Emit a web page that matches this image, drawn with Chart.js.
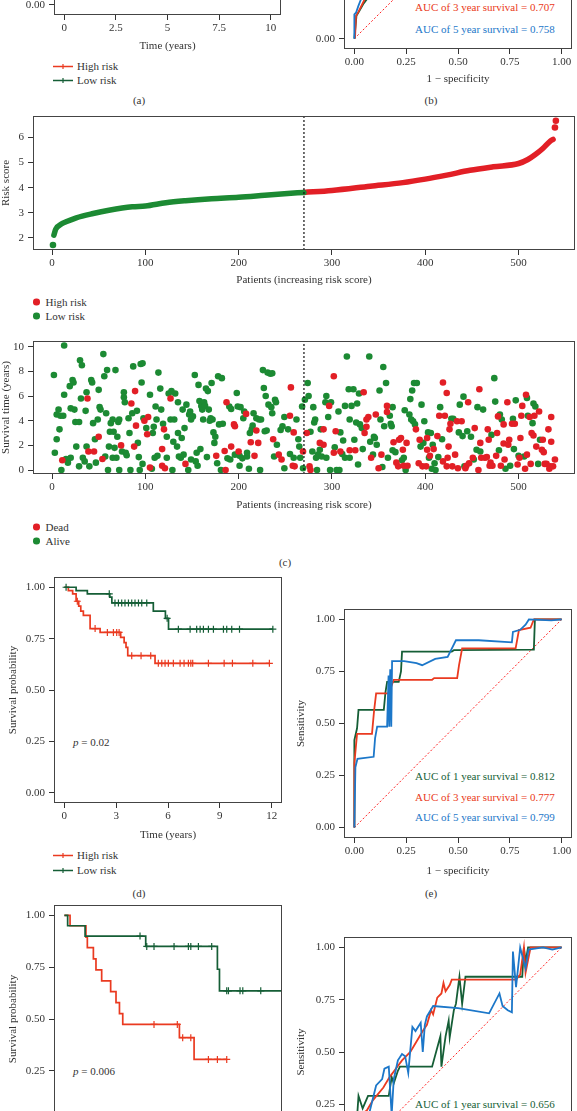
<!DOCTYPE html>
<html>
<head>
<meta charset="utf-8">
<script src="https://cdn.jsdelivr.net/npm/chart.js@4.4.1/dist/chart.umd.min.js"></script>
<style>
  html, body { margin: 0; padding: 0; background: #fff; overflow: hidden; }
  body { position: relative; width: 577px; height: 1111px; font-family: "Liberation Serif", "Times New Roman", serif; color: #333; }
  canvas { position: absolute; }
  .t { position: absolute; white-space: nowrap; font-size: 11px; line-height: 1; transform: translateY(-50%); }
  .c { transform: translate(-50%, -50%); }
  .key { position: absolute; display: flex; align-items: center; font-size: 11px; line-height: 1; transform: translateY(-50%); white-space: nowrap; }
  .key svg { margin-right: 4px; }
  .dot { display: inline-block; width: 6.5px; height: 6.5px; border-radius: 50%; margin-right: 6px; }
</style>
</head>
<body>

<!-- panel (a) legend / caption -->
<div class="key" style="left:53px;top:66px"><svg width="20" height="8"><line x1="0" y1="4" x2="20" y2="4" stroke="#EA3A20" stroke-width="1.5"/><path d="M10 1.5V6.5M7.5 4H12.5" stroke="#EA3A20" stroke-width="1.2"/></svg>High risk</div>
<div class="key" style="left:53px;top:80px"><svg width="20" height="8"><line x1="0" y1="4" x2="20" y2="4" stroke="#155E36" stroke-width="1.5"/><path d="M10 1.5V6.5M7.5 4H12.5" stroke="#155E36" stroke-width="1.2"/></svg>Low risk</div>
<div class="t c" style="left:139px;top:100px">(a)</div>

<!-- panel (b) -->
<div class="t" style="left:415px;top:7px;color:#EA3A20">AUC of 3 year survival = 0.707</div>
<div class="t" style="left:415px;top:29px;color:#1C77C9">AUC of 5 year survival = 0.758</div>
<div class="t c" style="left:431px;top:100px">(b)</div>

<!-- panel (c) legends -->
<div class="key" style="left:33px;top:302px"><span class="dot" style="background:#E21F26"></span>High risk</div>
<div class="key" style="left:33px;top:316px"><span class="dot" style="background:#1C8A33"></span>Low risk</div>
<div class="key" style="left:33px;top:527px"><span class="dot" style="background:#E21F26"></span>Dead</div>
<div class="key" style="left:33px;top:541px"><span class="dot" style="background:#1C8A33"></span>Alive</div>
<div class="t c" style="left:285px;top:562px">(c)</div>

<!-- panel (d) -->
<div class="t" style="left:73px;top:742px"><i>p</i> = 0.02</div>
<div class="key" style="left:53px;top:855px"><svg width="20" height="8"><line x1="0" y1="4" x2="20" y2="4" stroke="#EA3A20" stroke-width="1.5"/><path d="M10 1.5V6.5M7.5 4H12.5" stroke="#EA3A20" stroke-width="1.2"/></svg>High risk</div>
<div class="key" style="left:53px;top:870px"><svg width="20" height="8"><line x1="0" y1="4" x2="20" y2="4" stroke="#155E36" stroke-width="1.5"/><path d="M10 1.5V6.5M7.5 4H12.5" stroke="#155E36" stroke-width="1.2"/></svg>Low risk</div>
<div class="t c" style="left:139px;top:893px">(d)</div>

<!-- panel (e) -->
<div class="t" style="left:415px;top:776px;color:#155E36">AUC of 1 year survival = 0.812</div>
<div class="t" style="left:415px;top:797px;color:#EA3A20">AUC of 3 year survival = 0.777</div>
<div class="t" style="left:415px;top:817px;color:#1C77C9">AUC of 5 year survival = 0.799</div>
<div class="t c" style="left:431px;top:893px">(e)</div>

<!-- bottom panels -->
<div class="t" style="left:73px;top:1071px"><i>p</i> = 0.006</div>
<div class="t" style="left:415px;top:1104px;color:#155E36">AUC of 1 year survival = 0.656</div>

<script>
// Multi-panel survival figure: KM curves, time-dependent ROC, risk score and survival status plots

const FONT = '"Liberation Serif", "Times New Roman", serif';
const INK = '#333333';
const DOT_RED = '#E21F26';
const DOT_GREEN = '#1C8A33';
const LINE_RED = '#EA3A20';
const LINE_GREEN = '#155E36';
const LINE_BLUE = '#1C77C9';

// ---- tick labels ----
const probTicks = [0, 0.25, 0.5, 0.75, 1];
const timeTicksA = [0, 2.5, 5, 7.5, 10];
const timeTicks = [0, 3, 6, 9, 12];
const patientTicks = [0, 100, 200, 300, 400, 500];
const riskTicks = [2, 3, 4, 5, 6];
const survYearTicks = [0, 2, 4, 6, 8, 10];

// ---- risk score curve (patients sorted by risk score) ----
const cutoffPatient = 270;
const riskLowX = [2, 4, 10, 15, 26, 44, 61, 86, 100, 122, 143, 171, 200, 228, 249, 270];
const riskLowY = [2.11, 2.35, 2.55, 2.64, 2.8, 2.97, 3.1, 3.24, 3.27, 3.4, 3.48, 3.56, 3.62, 3.7, 3.76, 3.81];
const riskHighX = [270, 300, 341, 376, 400, 423, 448, 473, 500, 510, 518, 526, 534, 537];
const riskHighY = [3.81, 3.89, 4.06, 4.2, 4.34, 4.5, 4.69, 4.83, 4.96, 5.12, 5.32, 5.56, 5.85, 5.92];
const riskLowLoose = [[1, 1.72]];
const riskHighLoose = [[539, 6.39], [540, 6.66]];

// ---- survival status per patient: [patient, years] ----
const alivePoints = [
  [2,7.7],[3,1.4],[5,4.5],[7,4.9],[9,4.4],[5,2.5],[8,3.3],[10,0],[13,10.1],[13,6.1],[12,4.4],[15,0.9],[17,0.6],[19,6.8],
  [20,5.0],[20,1.0],[22,7.3],[23,7.1],[24,4.9],[25,3.9],[26,1.9],[29,3.9],[29,0.3],[30,8.9],[31,5.8],[32,8.5],[33,1.0],
  [35,0.7],[36,4.8],[37,6.3],[37,1.9],[40,0.3],[42,7.3],[43,7.1],[44,3.8],[46,2.5],[47,0.6],[49,4.1],[50,6.5],[51,5.1],
  [52,4.9],[55,9.4],[56,7.6],[57,1.1],[58,4.6],[59,8.1],[60,0],[61,1.9],[62,3.1],[63,3.8],[65,4.1],[65,1.0],[66,3.1],
  [67,1.8],[68,8.1],[70,2.7],[69,1.0],[71,3.9],[72,0],[72,4.1],[75,1.5],[77,5.9],[77,6.3],[78,5.5],[79,1.4],[80,1.2],
  [82,4.2],[83,3.0],[84,0],[86,4.6],[87,8.4],[91,4.8],[92,2.2],[93,1.05],[94,0],[95,8.6],[96,7.1],[97,8.65],[97,0.5],
  [98,4.2],[101,3.4],[105,6.1],[107,0.1],[108,3.0],[109,3.5],[110,1.0],[111,5.15],[112,4.1],[113,1.15],[114,7.9],
  [116,6.6],[117,4.9],[119,3.75],[123,1.0],[123,2.7],[125,6.2],[127,4.1],[128,6.4],[129,0],[130,2.3],[131,4.1],[132,6.2],
  [134,1.9],[135,5.5],[135,3.0],[136,1.1],[138,1.0],[139,2.6],[140,4.9],[141,1.25],[142,3.4],[144,5.3],[146,0],[147,4.5],
  [148,4.75],[149,4.1],[149,0.85],[151,4.35],[153,7.7],[154,0.7],[155,1.4],[156,0.35],[157,6.9],[158,5.6],[159,1.7],
  [160,5.2],[161,4.9],[162,4.1],[163,5.5],[164,5.2],[165,6.6],[166,1.05],[167,6.4],[168,4.9],[169,4.0],[170,4.2],
  [171,7.05],[172,4.1],[173,3.05],[174,2.2],[175,2.7],[177,0.55],[178,7.6],[179,3.7],[181,0],[182,7.45],[183,3.75],
  [188,0.95],[190,5.15],[191,0.85],[192,4.95],[196,1.25],[198,6.25],[199,5.15],[201,1.15],[201,0.35],[202,5.1],[204,0.95],
  [205,4.2],[206,4.75],[209,1.1],[209,1.4],[211,0.1],[212,3.0],[214,3.3],[215,3.6],[216,4.6],[219,4.2],[222,4.1],[223,0],
  [224,4.1],[226,8.1],[227,6.65],[228,3.15],[229,6.0],[230,3.2],[231,7.9],[232,5.3],[234,7.8],[235,5.1],[236,7.85],
  [236,4.6],[238,1.1],[239,5.7],[240,5.5],[241,2.05],[245,3.25],[247,3.55],[249,4.3],[249,0.15],
  [253,3.3],[255,1.3],[259,1.0],[262,4.1],[264,2.5],[265,1.9],[266,1.0],[268,5.15],[269,0.15],[271,5.7],[274,7.05],
  [275,6.0],[277,3.1],[279,1.5],[280,5.1],[281,3.85],[282,4.1],[283,1.0],[284,0],[285,1.25],[287,1.65],[288,3.3],
  [289,1.1],[293,5.5],[294,6.0],[294,1.0],[296,4.3],[298,0],[299,5.5],[303,1.85],[305,0],[307,4.75],[308,0],[309,3.05],
  [311,1.3],[312,2.4],[314,5.2],[314,1.0],[316,9.2],[318,6.55],[319,1.0],[319,4.1],[321,5.2],[323,6.55],[324,2.45],
  [326,3.85],[327,5.4],[328,0.45],[329,6.2],[330,3.7],[332,3.4],[333,1.7],[340,9.2],[341,2.3],[344,1.25],[345,2.7],
  [346,2.6],[348,2.05],[351,6.45],[352,4.1],[354,0.25],[355,8.35],[356,3.55],[358,7.05],[360,1.0],[362,4.4],[363,3.75],
  [364,3.55],[365,5.1],[365,1.6],[368,1.45],[375,0.8],[377,1.0],[378,4.85],[379,0],[383,4.5],[384,5.75],[385,4.1],
  [386,6.45],[387,3.95],[388,7.05],[389,3.7],[391,7.05],[395,1.9],[396,5.3],[398,2.2],[399,3.95],[403,3.05],[404,1.0],
  [406,3.0],[407,0.1],[408,2.05],[410,0.55],[411,0],[414,1.05],[416,5.1],[418,2.5],[428,4.15],[430,4.15],[436,3.05],
  [437,5.3],[440,2.75],[441,5.95],[442,0.3],[445,3.15],[449,2.7],[452,0.85],[455,1.65],[456,5.1],[459,1.5],[462,4.9],
  [471,2.85],[474,7.45],[475,5.55],[479,1.6],[480,4.5],[482,4.1],[486,0.1],[491,0.35],[494,4.15],[495,1.7],[497,5.65],
  [500,1.15],[506,1.1],[509,5.85],[510,4.4],[515,3.8],[516,5.4],[518,5.15],[521,0.5],[523,2.45],
];
const deadPoints = [
  [11,0.8],[38,5.8],[39,1.5],[45,1.5],[50,2.7],[54,0.9],[74,2.0],[85,5.4],[88,1.9],[89,6.4],[90,3.6],[99,4.0],[102,2.9],
  [103,4.3],[105,0.2],[118,1.7],[118,0.35],[120,3.3],[121,0.15],[127,5.8],[143,0.5],[176,1.15],[185,1.55],[186,0],
  [187,5.5],[192,1.9],[195,3.7],[196,3.55],[200,1.5],[208,4.55],[213,2.25],[217,1.15],[219,3.2],[221,2.2],[237,2.5],
  [243,1.25],[246,0.85],[255,4.4],[256,6.7],[258,0.35],[259,3.05],[260,0.3],[269,1.5],[273,3.0],[276,0.3],[277,0],
  [287,2.2],[291,3.3],[291,2.05],[297,5.2],[302,7.6],[302,1.4],[304,3.15],[309,1.5],[319,1.6],[325,1.6],[334,6.3],
  [335,3.0],[337,4.1],[337,3.5],[339,4.3],[342,1.0],[347,4.5],[350,0.15],[353,1.25],[359,4.7],[359,5.2],[366,2.25],
  [369,0.6],[371,0.3],[372,2.45],[374,2.6],[376,1.65],[377,0.35],[380,2.2],[381,0.35],[390,3.3],[393,0.55],[394,2.45],
  [397,0.3],[401,0.3],[402,2.6],[402,1.65],[405,1.15],[409,1.7],[413,2.75],[415,4.4],[419,0.7],[419,7.1],[421,4.4],
  [423,6.25],[423,0.3],[424,1.0],[425,1.9],[426,3.3],[427,3.75],[429,0.3],[432,1.25],[434,3.95],[435,0.15],[439,3.95],
  [443,0.15],[444,0.35],[446,5.5],[447,0.55],[451,1.0],[453,3.4],[457,0],[458,6.55],[459,2.2],[460,1.0],[464,1.0],
  [466,1.05],[467,3.3],[468,2.45],[469,0.35],[470,0.6],[472,0.35],[476,1.15],[477,3.0],[478,4.35],[481,0.35],[484,3.7],
  [484,2.15],[485,0.85],[488,5.5],[489,2.05],[490,2.45],[493,3.75],[496,3.75],[499,0.45],[501,1.0],[502,2.6],[503,4.4],
  [504,5.2],[507,0.1],[508,6.1],[509,1.25],[512,4.3],[513,0.5],[514,3.0],[516,2.8],[517,4.4],[519,1.9],[522,4.75],
  [525,1.65],[526,2.45],[527,1.45],[528,0.5],[530,0.5],[532,3.3],[533,0.1],[534,0.3],[535,4.3],[535,2.3],[537,0.3],[539,0.85],
];

// ---- Kaplan-Meier, panel (d) ----
const kmDHighT = [0, 0.23, 0.48, 0.68, 0.83, 0.95, 1.1, 1.49, 2.07, 3.26, 3.46, 3.57, 3.67, 5.25, 11.87];
const kmDHighS = [1, 0.984, 0.968, 0.932, 0.908, 0.884, 0.863, 0.799, 0.78, 0.756, 0.731, 0.707, 0.667, 0.63, 0.63];
const kmDHighCensor = [0.75, 1.78, 2.49, 2.84, 3.03, 3.17, 3.9, 4.44, 5.0, 5.44, 5.64, 5.83, 6.02, 6.31, 6.7, 6.93, 7.18, 7.32, 7.43, 8.34, 9.25, 9.73, 10.91, 11.87];
const kmDLowT = [0, 0.68, 1.33, 2.63, 2.75, 5.15, 5.85, 6.03, 12.07];
const kmDLowS = [1, 0.984, 0.968, 0.952, 0.924, 0.884, 0.849, 0.796, 0.796];
const kmDLowCensor = [0.1, 2.6, 2.93, 3.13, 3.32, 3.51, 3.71, 3.9, 4.09, 4.29, 4.48, 4.77, 5.95, 6.6, 7.28, 7.66, 7.86, 8.05, 8.34, 8.63, 9.21, 9.4, 9.69, 10.14, 12.07];

// ---- Kaplan-Meier, bottom panel ----
const kmFHighT = [0, 0.33, 1.25, 1.33, 1.68, 1.83, 2.16, 2.68, 2.99, 3.19, 3.38, 6.66, 7.51, 9.4];
const kmFHighS = [1, 0.95, 0.895, 0.844, 0.79, 0.737, 0.684, 0.632, 0.579, 0.526, 0.474, 0.41, 0.305, 0.305];
const kmFHighCensor = [5.19, 6.54, 6.85, 7.32, 8.34, 8.86, 9.4];
const kmFLowT = [0, 0.19, 1.2, 4.71, 8.86, 8.98, 12.59];
const kmFLowS = [1, 0.95, 0.9, 0.85, 0.74, 0.636, 0.636];
const kmFLowCensor = [4.38, 4.77, 5.19, 6.35, 7.18, 7.32, 7.76, 8.53, 9.4, 9.5, 10.17, 10.33, 11.37];

// ---- ROC curves: [1 - specificity, sensitivity] ----
const rocDiagonal = [[0, 0], [1, 1]];
const rocB1 = [[0, 0], [0.01, 0.11], [0.025, 0.135], [0.045, 0.17], [0.06, 0.19], [0.08, 0.25], [0.1, 0.3]];
const rocB3 = [[0.003, 0], [0.008, 0.11], [0.02, 0.13], [0.035, 0.16], [0.05, 0.19], [0.07, 0.25]];
const rocB5 = [[0, 0], [0, 0.117], [0.008, 0.125], [0.019, 0.157], [0.032, 0.19], [0.05, 0.25]];
const rocE1 = [[0, 0], [0, 0.42], [0.013, 0.477], [0.02, 0.565], [0.142, 0.565], [0.15, 0.65], [0.158, 0.7], [0.214, 0.7], [0.225, 0.75], [0.23, 0.845], [0.47, 0.845], [0.48, 0.852], [0.866, 0.855], [0.871, 1.0], [1, 1]];
const rocE3 = [[0, 0], [0, 0.31], [0.013, 0.45], [0.085, 0.45], [0.095, 0.56], [0.105, 0.645], [0.166, 0.645], [0.19, 0.71], [0.375, 0.71], [0.385, 0.718], [0.496, 0.718], [0.505, 0.78], [0.52, 0.861], [0.778, 0.861], [0.794, 0.949], [0.85, 0.96], [0.866, 1.0], [1, 1]];
const rocE5 = [[0, 0], [0.005, 0.29], [0.015, 0.33], [0.093, 0.34], [0.1, 0.43], [0.11, 0.485], [0.158, 0.485], [0.165, 0.73], [0.168, 0.485], [0.173, 0.76], [0.178, 0.485], [0.182, 0.8], [0.24, 0.8], [0.3, 0.79], [0.327, 0.78], [0.39, 0.81], [0.45, 0.82], [0.47, 0.86], [0.49, 0.9], [0.6, 0.9], [0.76, 0.89], [0.765, 0.94], [0.8, 0.95], [0.826, 0.975], [0.842, 1.0], [0.95, 0.995], [1, 1]];
const rocG1 = [[0, 0], [0.02, 0.29], [0.04, 0.23], [0.066, 0.29], [0.166, 0.29], [0.18, 0.38], [0.19, 0.35], [0.21, 0.41], [0.22, 0.43], [0.375, 0.43], [0.415, 0.575], [0.42, 0.43], [0.44, 0.575], [0.455, 0.65], [0.46, 0.57], [0.48, 0.7], [0.49, 0.73], [0.507, 0.86], [0.52, 0.73], [0.536, 0.86], [0.81, 0.86], [0.818, 1.0], [0.826, 0.93], [0.838, 1.0], [1, 1]];
const rocG3 = [[0, 0], [0.03, 0.2], [0.06, 0.22], [0.09, 0.27], [0.14, 0.33], [0.17, 0.38], [0.2, 0.42], [0.23, 0.46], [0.27, 0.5], [0.3, 0.55], [0.33, 0.6], [0.35, 0.63], [0.37, 0.7], [0.38, 0.68], [0.4, 0.76], [0.42, 0.78], [0.43, 0.83], [0.44, 0.79], [0.46, 0.82], [0.47, 0.846], [0.78, 0.846], [0.8, 0.87], [0.818, 1.0], [0.826, 0.88], [0.85, 1.0], [1, 1]];
const rocG5 = [[0, 0], [0.02, 0.15], [0.037, 0.177], [0.07, 0.2], [0.105, 0.34], [0.134, 0.37], [0.145, 0.42], [0.166, 0.43], [0.18, 0.2], [0.19, 0.37], [0.21, 0.46], [0.23, 0.49], [0.245, 0.48], [0.26, 0.4], [0.28, 0.62], [0.295, 0.6], [0.32, 0.64], [0.33, 0.5], [0.34, 0.63], [0.35, 0.67], [0.38, 0.72], [0.5, 0.71], [0.65, 0.685], [0.7, 0.78], [0.715, 0.72], [0.74, 0.7], [0.76, 0.69], [0.765, 0.98], [0.78, 0.81], [0.8, 1.0], [0.826, 0.9], [0.84, 0.99], [0.91, 1.0], [0.955, 0.99], [1, 1]];

// ---------------------------------------------------------------

const toXY = (pairs) => pairs.map(([x, y]) => ({ x, y }));
const zipXY = (xs, ys) => xs.map((x, i) => ({ x, y: ys[i] }));
const survivalAt = (times, surv, t) => {
  let s = surv[0];
  times.forEach((time, i) => { if (time <= t) s = surv[i]; });
  return s;
};
const fmt2 = (v) => Number(v).toFixed(2);
const fmtPlain = (v) => String(v);

// full frame round the panel, like the ggplot panel border
const panelBorder = {
  id: 'panelBorder',
  afterDraw(chart) {
    const { ctx, chartArea: a } = chart;
    ctx.save();
    ctx.strokeStyle = '#444';
    ctx.lineWidth = 1;
    ctx.strokeRect(Math.round(a.left) + 0.5, Math.round(a.top) + 0.5, Math.round(a.right - a.left) - 1, Math.round(a.bottom - a.top) - 1);
    ctx.restore();
  },
};

function scaleOpts(axis, min, max, ticks, fmt, title, size, titlePad) {
  const horizontal = axis === 'x';
  return {
    type: 'linear',
    position: horizontal ? 'bottom' : 'left',
    min,
    max,
    afterBuildTicks: (scale) => { scale.ticks = ticks.map((value) => ({ value })); },
    afterFit: (scale) => { if (horizontal) scale.height = size; else scale.width = size; },
    grid: { drawOnChartArea: false, drawTicks: true, tickLength: 5, tickColor: INK, tickWidth: 1 },
    border: { display: false },
    ticks: { padding: horizontal ? 2 : 4, color: INK, autoSkip: false, maxRotation: 0, font: { family: FONT, size: 11 }, callback: fmt },
    title: { display: true, text: title, color: INK, font: { family: FONT, size: 11 }, padding: { top: titlePad || 0, bottom: 0 } },
  };
}

// box = plot panel in page pixels; yw / xh = room kept for the axes
function placeChart(box, yw, xh, scales, datasets) {
  const padTop = 12;
  const padRight = 12;
  const canvas = document.createElement('canvas');
  canvas.width = yw + (box.right - box.left) + padRight;
  canvas.height = padTop + (box.bottom - box.top) + xh;
  canvas.style.left = (box.left - yw) + 'px';
  canvas.style.top = (box.top - padTop) + 'px';
  document.body.appendChild(canvas);
  return new Chart(canvas, {
    type: 'scatter',
    data: { datasets },
    options: {
      responsive: false,
      animation: false,
      events: [],
      layout: { padding: { top: padTop, right: padRight, left: 0, bottom: 0 } },
      plugins: { legend: { display: false }, tooltip: { enabled: false } },
      scales,
    },
    plugins: [panelBorder],
  });
}

function kmSets(times, surv, censor, color) {
  return [
    {
      data: censor.map((t) => ({ x: t, y: survivalAt(times, surv, t) })),
      pointStyle: 'cross', pointRadius: 3.5, borderColor: color, pointBorderColor: color, pointBorderWidth: 1.2, borderWidth: 1.2,
    },
    { data: zipXY(times, surv), showLine: true, stepped: true, borderColor: color, borderWidth: 1.7, pointRadius: 0 },
  ];
}

function rocSet(pairs, color) {
  return { data: toXY(pairs), showLine: true, borderColor: color, borderWidth: 1.8, pointRadius: 0 };
}

const diagonalSet = () => ({ data: toXY(rocDiagonal), showLine: true, borderColor: '#F22', borderWidth: 1, borderDash: [2, 2], pointRadius: 0 });

function dotSet(points, color) {
  return { data: toXY(points), pointRadius: 3.3, backgroundColor: color, pointBackgroundColor: color, pointBorderWidth: 0, borderWidth: 0 };
}

function curveSet(xs, ys, color) {
  return { data: zipXY(xs, ys), showLine: true, borderColor: color, borderWidth: 5.5, pointRadius: 0, cubicInterpolationMode: 'monotone', borderCapStyle: 'round' };
}

function cutoffSet(yMin, yMax) {
  return { data: [{ x: cutoffPatient, y: yMin }, { x: cutoffPatient, y: yMax }], showLine: true, borderColor: '#111', borderWidth: 1.2, borderDash: [2, 2], pointRadius: 0 };
}

// (a) KM, only its bottom edge is in the picture
placeChart({ left: 54, right: 281, top: -213, bottom: 15 }, 54, 38, {
  x: scaleOpts('x', -0.5, 10.5, timeTicksA, fmtPlain, 'Time (years)', 38),
  y: scaleOpts('y', -0.05, 1.05, probTicks, fmt2, 'Survival probability', 54, 7),
}, []);

// (b) ROC, bottom edge only
placeChart({ left: 344, right: 572, top: -179, bottom: 49 }, 56, 37, {
  x: scaleOpts('x', -0.05, 1.05, probTicks, fmt2, '1 \u2212 specificity', 37),
  y: scaleOpts('y', -0.05, 1.05, probTicks, fmt2, 'Sensitivity', 56, 7),
}, [rocSet(rocB5, LINE_BLUE), rocSet(rocB3, LINE_RED), rocSet(rocB1, LINE_GREEN), diagonalSet()]);

// (c) risk score distribution
const riskYMin = 1.52, riskYMax = 6.85;
placeChart({ left: 33, right: 575, top: 116, bottom: 250 }, 33, 37, {
  x: scaleOpts('x', -20.4, 560.5, patientTicks, fmtPlain, 'Patients (increasing risk score)', 37),
  y: scaleOpts('y', riskYMin, riskYMax, riskTicks, fmtPlain, 'Risk score', 33, 0),
}, [
  cutoffSet(riskYMin, riskYMax),
  dotSet(riskLowLoose, DOT_GREEN),
  dotSet(riskHighLoose, DOT_RED),
  curveSet(riskLowX, riskLowY, DOT_GREEN),
  curveSet(riskHighX, riskHighY, DOT_RED),
]);

// (c) survival status
const survYMin = -0.32, survYMax = 10.46;
placeChart({ left: 33, right: 575, top: 341, bottom: 474 }, 33, 38, {
  x: scaleOpts('x', -20.4, 560.5, patientTicks, fmtPlain, 'Patients (increasing risk score)', 38),
  y: scaleOpts('y', survYMin, survYMax, survYearTicks, fmtPlain, 'Survival time (years)', 33, 0),
}, [cutoffSet(survYMin, survYMax), dotSet(deadPoints, DOT_RED), dotSet(alivePoints, DOT_GREEN)]);

// (d) KM
placeChart({ left: 54, right: 282, top: 577, bottom: 803 }, 54, 39, {
  x: scaleOpts('x', -0.6, 12.6, timeTicks, fmtPlain, 'Time (years)', 39),
  y: scaleOpts('y', -0.05, 1.05, probTicks, fmt2, 'Survival probability', 54, 7),
}, [...kmSets(kmDLowT, kmDLowS, kmDLowCensor, LINE_GREEN), ...kmSets(kmDHighT, kmDHighS, kmDHighCensor, LINE_RED)]);

// (e) ROC
placeChart({ left: 344, right: 572, top: 609, bottom: 838 }, 56, 40, {
  x: scaleOpts('x', -0.05, 1.05, probTicks, fmt2, '1 \u2212 specificity', 40),
  y: scaleOpts('y', -0.05, 1.05, probTicks, fmt2, 'Sensitivity', 56, 7),
}, [rocSet(rocE5, LINE_BLUE), rocSet(rocE3, LINE_RED), rocSet(rocE1, LINE_GREEN), diagonalSet()]);

// bottom KM (cut by the picture edge)
placeChart({ left: 54, right: 282, top: 905, bottom: 1133 }, 54, 39, {
  x: scaleOpts('x', -0.6, 12.6, timeTicks, fmtPlain, 'Time (years)', 39),
  y: scaleOpts('y', -0.05, 1.05, probTicks, fmt2, 'Survival probability', 54, 7),
}, [...kmSets(kmFLowT, kmFLowS, kmFLowCensor, LINE_GREEN), ...kmSets(kmFHighT, kmFHighS, kmFHighCensor, LINE_RED)]);

// bottom ROC
placeChart({ left: 344, right: 572, top: 937, bottom: 1167 }, 56, 40, {
  x: scaleOpts('x', -0.05, 1.05, probTicks, fmt2, '1 \u2212 specificity', 40),
  y: scaleOpts('y', -0.05, 1.05, probTicks, fmt2, 'Sensitivity', 56, 7),
}, [rocSet(rocG5, LINE_BLUE), rocSet(rocG3, LINE_RED), rocSet(rocG1, LINE_GREEN), diagonalSet()]);
</script>
</body>
</html>
